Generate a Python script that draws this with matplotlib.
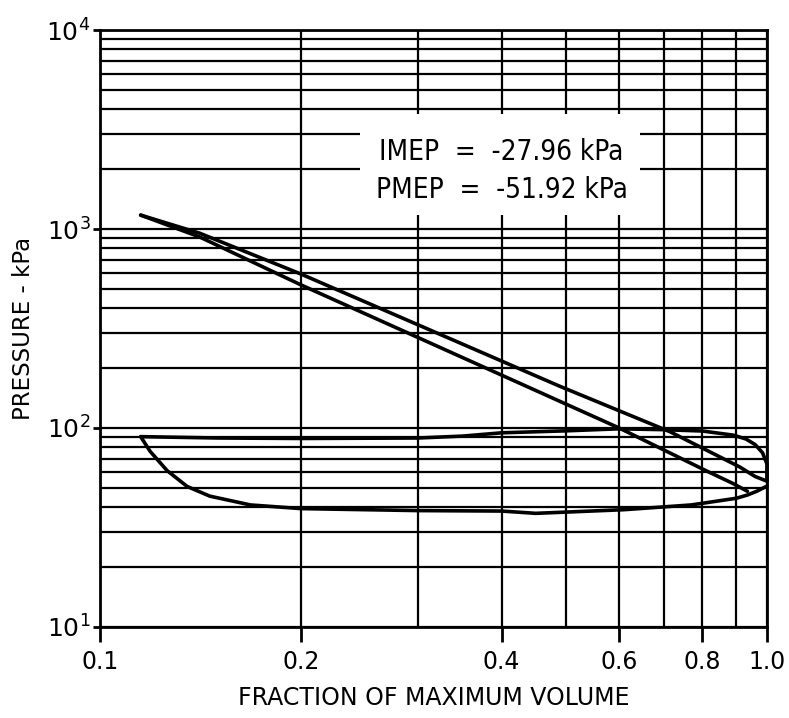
import matplotlib
matplotlib.use("Agg")
import matplotlib.pyplot as plt
from matplotlib.patches import Rectangle
from matplotlib.ticker import FixedLocator, NullFormatter

# compression / expansion lines (volume fraction, kPa)
upper_v = [0.115, 0.141, 0.2, 0.489, 0.716, 0.91, 0.96, 1.0]
upper_p = [1175, 953, 594, 162, 95.6, 63.7, 57, 54]
lower_v = [0.115, 0.141, 0.2, 0.6, 0.81, 0.89, 0.935]
lower_p = [1175, 912, 524, 100, 61, 52.5, 48]

# exhaust stroke (top of pumping loop), from BDC to TDC
exhaust_v = [1.0, 1.0, 0.985, 0.96, 0.93, 0.89, 0.8, 0.7, 0.6, 0.5, 0.4, 0.35, 0.3, 0.2, 0.15, 0.115]
exhaust_p = [54, 66, 75, 82.5, 88, 92, 96.5, 98, 99, 96.7, 94.5, 91, 89, 88.5, 89, 90.4]

# intake stroke (bottom of pumping loop), from TDC to BDC
intake_v = [0.115, 0.1188, 0.126, 0.135, 0.146, 0.168, 0.2, 0.3, 0.4, 0.45, 0.61, 0.77, 0.9, 0.935, 0.965, 1.0]
intake_p = [90.4, 76.3, 61, 50.8, 45.4, 41, 39.3, 38.4, 38.2, 37.2, 38.8, 41, 44.3, 46, 48, 51]

x_ticks = [0.1, 0.2, 0.4, 0.6, 0.8, 1.0]
x_ticklabels = ["0.1", "0.2", "0.4", "0.6", "0.8", "1.0"]
x_grid = [0.3, 0.5, 0.7, 0.9]
y_ticks = [1e1, 1e2, 1e3, 1e4]
y_ticklabels = [r"$10^1$", r"$10^2$", r"$10^3$", r"$10^4$"]
y_grid = [m * 10 ** k for k in (1, 2, 3) for m in range(2, 10)]

imep = -27.96
pmep = -51.92

plt.rcParams["font.family"] = ["DejaVu Sans"]
plt.rcParams["mathtext.fontset"] = "dejavusans"

fig = plt.figure(figsize=(7.89, 7.18), dpi=100)
ax = fig.add_axes([0.127, 0.127, 0.845, 0.831])
ax.set_xscale("log")
ax.set_yscale("log")
ax.set_xlim(0.1, 1.0)
ax.set_ylim(10, 1e4)

ax.xaxis.set_major_locator(FixedLocator(x_ticks))
ax.xaxis.set_minor_locator(FixedLocator(x_grid))
ax.set_xticklabels(x_ticklabels)
ax.xaxis.set_minor_formatter(NullFormatter())
ax.yaxis.set_major_locator(FixedLocator(y_ticks))
ax.yaxis.set_minor_locator(FixedLocator(y_grid))
ax.set_yticklabels(y_ticklabels)
ax.yaxis.set_minor_formatter(NullFormatter())

ax.grid(which="both", color="black", lw=1.6)
ax.set_axisbelow(True)
ax.tick_params(which="minor", length=0)
ax.tick_params(axis="x", which="major", length=11, width=2, labelsize=17, pad=6)
ax.tick_params(axis="y", which="major", length=5, width=2, labelsize=18, pad=2)
for side in ("left", "bottom", "right", "top"):
    ax.spines[side].set_linewidth(2)

# blank panel behind the text
ax.add_patch(Rectangle((0.245, 1180), 0.645 - 0.245, 3800 - 1180,
                       facecolor="white", edgecolor="none", zorder=1))
ax.text(0.4, 2440, f"IMEP  =  {imep:.2f} kPa", ha="center", va="center",
        fontsize=20, fontstretch="condensed", zorder=3)
ax.text(0.4, 1580, f"PMEP  =  {pmep:.2f} kPa", ha="center", va="center",
        fontsize=20, fontstretch="condensed", zorder=3)

for v, p in ((upper_v, upper_p), (lower_v, lower_p),
             (exhaust_v, exhaust_p), (intake_v, intake_p)):
    ax.plot(v, p, color="black", lw=2.6, solid_capstyle="round", zorder=4, clip_on=False)

ax.set_xlabel("FRACTION OF MAXIMUM VOLUME", fontsize=17, labelpad=8)
ax.set_ylabel("PRESSURE - kPa", fontsize=16.5, labelpad=8)

fig.savefig("out.png", dpi=100)
